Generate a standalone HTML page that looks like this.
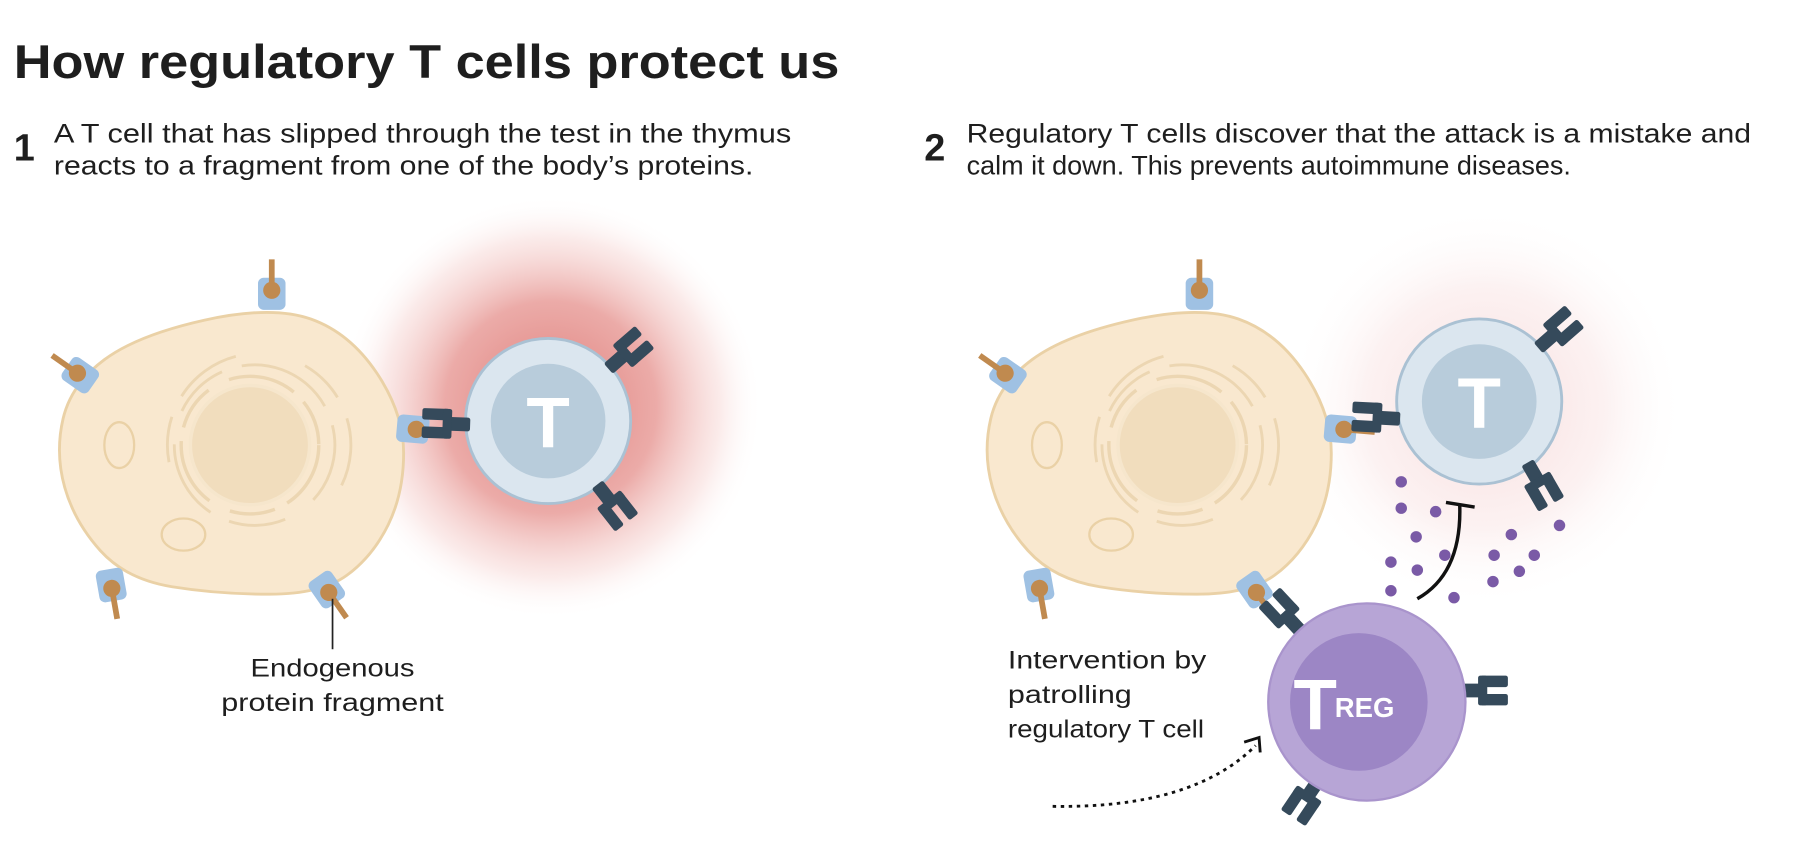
<!DOCTYPE html>
<html><head><meta charset="utf-8"><style>
html,body{margin:0;padding:0;background:#fff;}
svg{display:block;}
text{font-family:"Liberation Sans",sans-serif;fill:#1e1e1e;}
</style></head><body>
<svg width="1798" height="857" viewBox="0 0 1568 747" xmlns="http://www.w3.org/2000/svg">
<defs>
<radialGradient id="g1" cx="0.5" cy="0.5" r="0.5">
<stop offset="0" stop-color="#dc7470" stop-opacity="0.95"/>
<stop offset="0.5" stop-color="#e58f8b" stop-opacity="0.75"/>
<stop offset="0.8" stop-color="#f3c5c2" stop-opacity="0.35"/>
<stop offset="1" stop-color="#fff" stop-opacity="0"/>
</radialGradient>
<radialGradient id="g2" cx="0.5" cy="0.5" r="0.5">
<stop offset="0" stop-color="#f5d3d3" stop-opacity="0.8"/>
<stop offset="0.6" stop-color="#f9e4e4" stop-opacity="0.5"/>
<stop offset="1" stop-color="#fff" stop-opacity="0"/>
</radialGradient>
<g id="mhc">
<rect x="-12" y="-14" width="24" height="28" rx="5" fill="#9fc1e3"/>
<rect x="-2.5" y="-30" width="5" height="26" fill="#c08a4f"/>
<circle cx="0" cy="-3" r="7.5" fill="#c08a4f"/>
</g>
<g id="tcr">
<rect x="-6" y="-20" width="12" height="22" rx="2" fill="#354a5b"/>
<rect x="-13" y="-40" width="10" height="24" rx="2" fill="#354a5b"/>
<rect x="3" y="-40" width="10" height="24" rx="2" fill="#354a5b"/>
<rect x="-13" y="-22" width="26" height="8" rx="2" fill="#354a5b"/>
</g>
<g id="cell">
<path d="M55,365 Q62,335 91,313.5 Q120,292 178.5,279 Q237,266 271,278 Q305,290 328.5,325 Q352,360 352,395 Q352,430 338.5,457.5 Q325,485 302.5,501.5 Q280,518 235,518 Q190,518 150,511.5 Q110,505 87.5,480 Q65,455 56.5,425 Q48,395 55,365Z" fill="#f9e8cf" stroke="#ead1a6" stroke-width="2.5"/>
<circle cx="218" cy="388" r="52" fill="#f1ddbd" stroke="#f6e6cc" stroke-width="3"/>
<circle cx="218" cy="388" r="60" fill="none" stroke="#ecd6b2" stroke-width="3" stroke-dasharray="60 12 40 20"/>
<circle cx="222" cy="388" r="70" fill="none" stroke="#ecd6b2" stroke-width="2.5" stroke-dasharray="50 18 70 30" transform="rotate(-70 222 388)"/>
<circle cx="226" cy="388" r="80" fill="none" stroke="#ecd6b2" stroke-width="2.5" stroke-dasharray="40 20 60 200" transform="rotate(-60 226 388)"/>
<ellipse cx="104" cy="388" rx="13" ry="20" fill="none" stroke="#ead1a6" stroke-width="2"/>
<ellipse cx="160" cy="466" rx="19" ry="14" fill="none" stroke="#ead1a6" stroke-width="2"/>
</g>
</defs>

<text x="12" y="68" font-size="41" font-weight="bold" fill="#1a1a1a" textLength="720" lengthAdjust="spacingAndGlyphs">How regulatory T cells protect us</text>
<text x="12" y="140" font-size="33" font-weight="bold">1</text>
<text x="47" y="124" font-size="23" textLength="643" lengthAdjust="spacingAndGlyphs">A T cell that has slipped through the test in the thymus</text>
<text x="47" y="152" font-size="23" textLength="610" lengthAdjust="spacingAndGlyphs">reacts to a fragment from one of the body’s proteins.</text>
<text x="806" y="140" font-size="33" font-weight="bold">2</text>
<text x="843" y="124" font-size="23" textLength="684" lengthAdjust="spacingAndGlyphs">Regulatory T cells discover that the attack is a mistake and</text>
<text x="843" y="152" font-size="23" textLength="527" lengthAdjust="spacingAndGlyphs">calm it down. This prevents autoimmune diseases.</text>

<!-- Panel 1 -->
<circle cx="480" cy="355" r="185" fill="url(#g1)"/>
<use href="#cell"/>
<use href="#mhc" transform="translate(237,256)"/>
<use href="#mhc" transform="translate(70,327) rotate(-55)"/>
<use href="#mhc" transform="translate(97,510) rotate(170)"/>
<use href="#mhc" transform="translate(285,514) rotate(145)"/>
<use href="#mhc" transform="translate(360,374) rotate(95)"/>
<circle cx="478" cy="367" r="72" fill="#dbe6ef" stroke="#aac1d3" stroke-width="2.5"/>
<circle cx="478" cy="367" r="50" fill="#b8ccdb"/>
<text x="478" y="390" font-size="62" font-weight="bold" text-anchor="middle" style="fill:#fff">T</text>
<use href="#tcr" transform="translate(532,320) rotate(49)"/>
<use href="#tcr" transform="translate(522,424) rotate(142)"/>
<use href="#tcr" transform="translate(408,370) rotate(-88)"/>
<line x1="290" y1="522" x2="290" y2="566" stroke="#222" stroke-width="1.5"/>
<text x="290" y="590" font-size="22" text-anchor="middle" textLength="143" lengthAdjust="spacingAndGlyphs">Endogenous</text>
<text x="290" y="620" font-size="22" text-anchor="middle" textLength="194" lengthAdjust="spacingAndGlyphs">protein fragment</text>

<!-- Panel 2 -->
<circle cx="1295" cy="355" r="175" fill="url(#g2)"/>
<use href="#cell" transform="translate(809,0)"/>
<use href="#mhc" transform="translate(1046,256)"/>
<use href="#mhc" transform="translate(879,327) rotate(-55)"/>
<use href="#mhc" transform="translate(906,510) rotate(170)"/>
<use href="#mhc" transform="translate(1094,514) rotate(145)"/>
<use href="#mhc" transform="translate(1169,374) rotate(95)"/>
<circle cx="1290" cy="350" r="72" fill="#dbe6ef" stroke="#aac1d3" stroke-width="2.5"/>
<circle cx="1290" cy="350" r="50" fill="#b8ccdb"/>
<text x="1290" y="373" font-size="62" font-weight="bold" text-anchor="middle" style="fill:#fff">T</text>
<use href="#tcr" transform="translate(1343,302) rotate(49)"/>
<use href="#tcr" transform="translate(1333,405) rotate(150)"/>
<use href="#tcr" transform="translate(1219,365) rotate(-87)"/>

<g fill="#7a5aa6">
<circle cx="1222" cy="420" r="5"/><circle cx="1222" cy="443" r="5"/><circle cx="1252" cy="446" r="5"/>
<circle cx="1235" cy="468" r="5"/><circle cx="1260" cy="484" r="5"/><circle cx="1213" cy="490" r="5"/>
<circle cx="1236" cy="497" r="5"/><circle cx="1213" cy="515" r="5"/><circle cx="1268" cy="521" r="5"/>
<circle cx="1318" cy="466" r="5"/><circle cx="1360" cy="458" r="5"/><circle cx="1303" cy="484" r="5"/>
<circle cx="1338" cy="484" r="5"/><circle cx="1325" cy="498" r="5"/><circle cx="1302" cy="507" r="5"/>
</g>
<path d="M1236,522 Q1275,500 1273,440" fill="none" stroke="#111" stroke-width="3"/>
<line x1="1261" y1="438" x2="1286" y2="442" stroke="#111" stroke-width="3"/>

<use href="#tcr" transform="translate(1134,550) rotate(-43)"/>
<use href="#tcr" transform="translate(1275,602) rotate(90)"/>
<use href="#tcr" transform="translate(1150,680) rotate(-146)"/>
<circle cx="1192" cy="612" r="86" fill="#b7a5d6" stroke="#a994cc" stroke-width="2"/>
<circle cx="1185" cy="612" r="60" fill="#9c86c5"/>
<text x="1128" y="636" font-size="62" font-weight="bold" style="fill:#fff">T</text>
<text x="1164" y="625" font-size="24" font-weight="bold" style="fill:#fff">REG</text>

<text x="879" y="583" font-size="22" textLength="173" lengthAdjust="spacingAndGlyphs">Intervention by</text>
<text x="879" y="613" font-size="22" textLength="108" lengthAdjust="spacingAndGlyphs">patrolling</text>
<text x="879" y="643" font-size="22" textLength="171" lengthAdjust="spacingAndGlyphs">regulatory T cell</text>
<path d="M918,703 Q1040,705 1095,650" fill="none" stroke="#111" stroke-width="2.5" stroke-dasharray="3 4"/>
<polyline points="1085,647 1098,643 1099,656" fill="none" stroke="#111" stroke-width="2.5"/>
</svg>
</body></html>
